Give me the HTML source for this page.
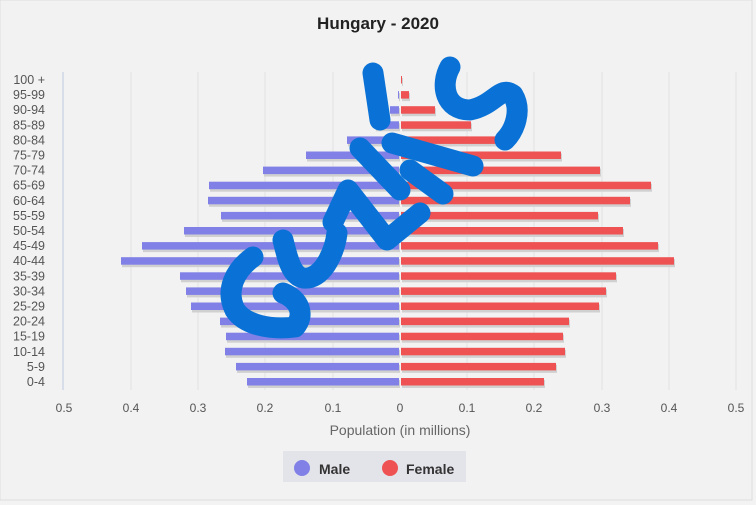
<!DOCTYPE html>
<html><head><meta charset="utf-8"><style>
body{margin:0;background:#fff}
svg{display:block}
text{font-family:"Liberation Sans",sans-serif}
</style></head><body>
<svg width="756" height="505" viewBox="0 0 756 505" xmlns="http://www.w3.org/2000/svg">
<rect x="0" y="0" width="756" height="505" fill="#f3f3f3"/>
<rect x="0" y="0" width="752" height="500" fill="#f2f2f2" stroke="#ddd"/>
<text x="378" y="29" text-anchor="middle" font-size="17" font-weight="bold" fill="#222">Hungary - 2020</text>
<g stroke="#e2e2e2" stroke-width="1">
<line x1="131" y1="72" x2="131" y2="390"/><line x1="198" y1="72" x2="198" y2="390"/><line x1="265" y1="72" x2="265" y2="390"/><line x1="333" y1="72" x2="333" y2="390"/><line x1="467" y1="72" x2="467" y2="390"/><line x1="534" y1="72" x2="534" y2="390"/><line x1="602" y1="72" x2="602" y2="390"/><line x1="669" y1="72" x2="669" y2="390"/><line x1="736" y1="72" x2="736" y2="390"/>
</g>
<line x1="63" y1="72" x2="63" y2="390" stroke="#cfd8e6" stroke-width="1.5"/>
<g font-size="12.5" fill="#555" text-anchor="end" id="lbl"></g>
<g id="bars"></g>
<g font-size="12" fill="#555" text-anchor="middle">
<text x="64" y="412">0.5</text><text x="131" y="412">0.4</text><text x="198" y="412">0.3</text><text x="265" y="412">0.2</text><text x="333" y="412">0.1</text><text x="400" y="412">0</text><text x="467" y="412">0.1</text><text x="534" y="412">0.2</text><text x="602" y="412">0.3</text><text x="669" y="412">0.4</text><text x="736" y="412">0.5</text>
</g>
<text x="400" y="435" text-anchor="middle" font-size="14" fill="#666">Population (in millions)</text>
<rect x="283" y="451" width="183" height="31" fill="#e3e3ea"/>
<circle cx="302" cy="468" r="8" fill="#8080e6"/>
<text x="319" y="474" font-size="14" font-weight="bold" fill="#333">Male</text>
<circle cx="390" cy="468" r="8" fill="#ee5252"/>
<text x="406" y="474" font-size="14" font-weight="bold" fill="#333">Female</text>
<g fill="none" stroke="#0a72d6" stroke-width="21" stroke-linecap="round" stroke-linejoin="round">
<path d="M253,257 C235,270 225,290 235,310 C245,325 270,330 295,327 C305,315 300,300 283,293"/>
<path d="M283,240 C288,260 292,280 308,278 C325,275 335,250 337,233"/>
<path d="M333,222 L348,190 L387,240 L420,213"/>
<path d="M360,148 L400,190"/>
<path d="M392,143 L473,166"/>
<path d="M410,170 L443,194"/>
<path d="M373,73 L380,120"/>
<path d="M450,67 C440,85 445,110 470,110 C495,105 500,85 513,95 C522,110 515,130 505,140"/>
</g>
<script>
var labels=["100 +","95-99","90-94","85-89","80-84","75-79","70-74","65-69","60-64","55-59","50-54","45-49","40-44","35-39","30-34","25-29","20-24","15-19","10-14","5-9","0-4"];
var m=[400,398,390,375,347,306,263,209,208,221,184,142,121,180,186,191,220,226,225,236,247];
var f=[402,409,435,471,500,561,600,651,630,598,623,658,674,616,606,599,569,563,565,556,544];
var ns="http://www.w3.org/2000/svg",L=document.getElementById("lbl"),B=document.getElementById("bars");
for(var i=0;i<21;i++){var y=80+i*15.1;
var t=document.createElementNS(ns,"text");t.setAttribute("x",45);t.setAttribute("y",y+4);t.textContent=labels[i];L.appendChild(t);
function r(x,w,c){if(w<=0)return;var s=document.createElementNS(ns,"rect");s.setAttribute("x",x+1);s.setAttribute("y",y-2);s.setAttribute("width",w);s.setAttribute("height",8);s.setAttribute("fill","#d0d0d0");B.appendChild(s);
var q=document.createElementNS(ns,"rect");q.setAttribute("x",x);q.setAttribute("y",y-4);q.setAttribute("width",w);q.setAttribute("height",7.5);q.setAttribute("fill",c);B.appendChild(q);}
r(m[i],399-m[i],"#8080e6");r(401,f[i]-401,"#ee5252");}
</script>
</svg>
</body></html>
